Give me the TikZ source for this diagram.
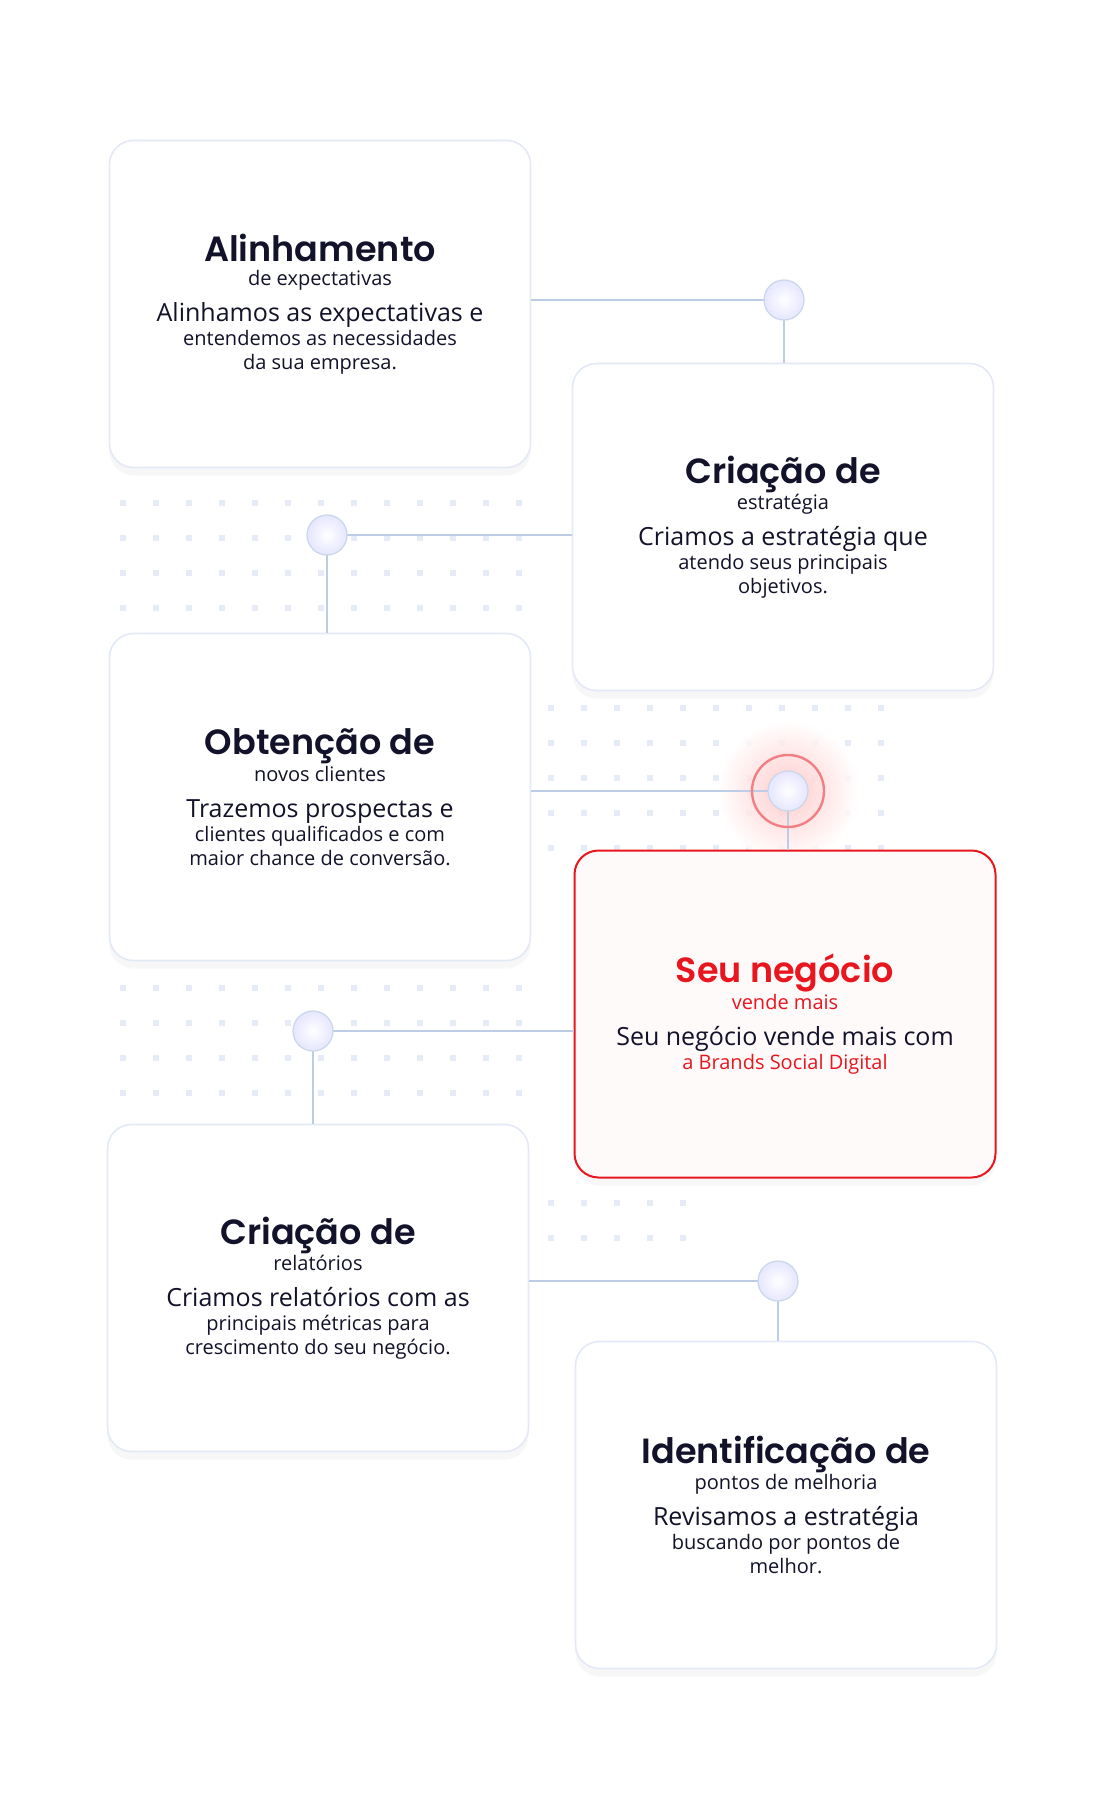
\documentclass[tikz,border=0pt]{standalone}
\usepackage{fontspec}
\setmainfont{Open Sans}
\newfontfamily\titlefont{Poppins}[UprightFont=* SemiBold]
\usetikzlibrary{positioning, shadows, calc}
\definecolor{linkblue}{HTML}{BCCDE5}
\definecolor{dotblue}{HTML}{E6ECF7}
\definecolor{edgeblue}{HTML}{E3E9F6}
\definecolor{brandred}{HTML}{E8161E}
\definecolor{inkdark}{HTML}{12122A}
\newcommand\headfont{\titlefont\fontsize{17.5}{20.5}\selectfont}
\newcommand\bodyfont{\normalfont\fontsize{12.5}{16}\selectfont}

\begin{document}
\begin{tikzpicture}[x=0.5pt, y=-0.5pt,
    stage/.style={rectangle, rounded corners=12pt, minimum width=210.5pt, minimum height=163.5pt, align=center, draw=edgeblue, line width=0.8pt, fill=white, text=inkdark, drop shadow={opacity=0.06, shadow xshift=0pt, shadow yshift=-4pt}},
    highlight/.style={stage, draw=brandred, line width=1pt, fill=red!2},
    knob/.style={circle, minimum size=20pt, inner sep=0pt, draw=linkblue!80, line width=0.6pt, inner color=white, outer color=blue!10},
    link/.style={draw=linkblue, line width=1.1pt},
]
\useasboundingbox (0,0) rectangle (1114,1819);
\fill[white] (0,0) rectangle (1114,1819);

% dotted background
\foreach \y in {500,535,570,605} \foreach \x in {120,153,...,540} \fill[dotblue] (\x,\y) rectangle ++(6,6);
\foreach \y in {705,740,775,810,845} \foreach \x in {548,581,...,880} \fill[dotblue] (\x,\y) rectangle ++(6,6);
\foreach \y in {985,1020,1055,1090} \foreach \x in {120,153,...,540} \fill[dotblue] (\x,\y) rectangle ++(6,6);
\foreach \y in {1200,1235} \foreach \x in {548,581,...,680} \fill[dotblue] (\x,\y) rectangle ++(6,6);

% red glow
\shade[inner color=red!25, outer color=white, opacity=0.8] (788,791) circle (70);

% stages
\node[stage] (align) at (320,304) {\headfont Alinhamento\\de expectativas\\[6pt]\bodyfont Alinhamos as expectativas e\\entendemos as necessidades\\da sua empresa.};
\node[stage] (strategy) at (783,527) {\headfont Criação de\\estratégia\\[6pt]\bodyfont Criamos a estratégia que\\atendo seus principais\\objetivos.};
\node[stage] (clients) at (320,797) {\headfont Obtenção de\\novos clientes\\[6pt]\bodyfont Trazemos prospectas e\\clientes qualificados e com\\maior chance de conversão.};
\node[highlight, text=brandred] (sales) at (785,1014) {\headfont Seu negócio\\vende mais\\[6pt]\bodyfont\color{inkdark}Seu negócio vende mais com\\a Brands Social Digital};
\node[stage] (reports) at (318,1288) {\headfont Criação de\\relatórios\\[6pt]\bodyfont Criamos relatórios com as\\principais métricas para\\crescimento do seu negócio.};
\node[stage] (improve) at (786,1505) {\headfont Identificação de\\pontos de melhoria\\[6pt]\bodyfont Revisamos a estratégia\\buscando por pontos de\\melhor.};

% knob positions
\coordinate (p1) at (784,300);
\coordinate (p2) at (327,535);
\coordinate (p3) at (788,791);
\coordinate (p4) at (313,1031);
\coordinate (p5) at (778,1281);

% links
\draw[link] (align.east |- p1) -- (p1) -- (p1 |- strategy.north);
\draw[link] (p2 -| strategy.west) -- (p2) -- (p2 |- clients.north);
\draw[link] (clients.east |- p3) -- (p3) -- (p3 |- sales.north);
\draw[link] (p4 -| sales.west) -- (p4) -- (p4 |- reports.north);
\draw[link] (reports.east |- p5) -- (p5) -- (p5 |- improve.north);

% knobs
\node[knob] (k1) at (p1) {};
\node[knob] (k2) at (p2) {};
\draw[brandred!55, line width=1.2pt] (p3) circle (36);
\node[knob] (k3) at (p3) {};
\node[knob] (k4) at (p4) {};
\node[knob] (k5) at (p5) {};

\end{tikzpicture}
\end{document}
